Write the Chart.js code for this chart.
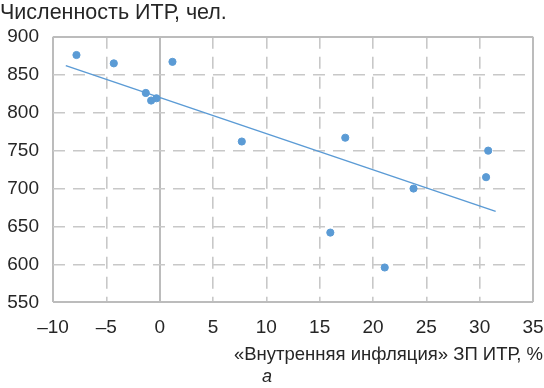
<!DOCTYPE html>
<html>
<head>
<meta charset="utf-8">
<script src="https://cdn.jsdelivr.net/npm/chart.js@4/dist/chart.umd.min.js"></script>
<style>
  html, body { margin: 0; padding: 0; background: #fff; }
  #wrap { width: 544px; height: 388px; }
</style>
</head>
<body>
<div id="wrap"><canvas id="itrChart"></canvas></div>
<script>
// «внутренняя инфляция» ЗП ИТР, % and численность ИТР, чел.
const inflation = [-7.8, -4.3, 1.2, -1.3, -0.8, -0.3, 7.7, 17.4, 16.0, 21.1, 23.8, 30.6, 30.8]
const headcount = [876, 865, 867, 826, 816, 819, 762, 767, 642, 596, 700, 715, 750]

// linear trend, ends
const trendX = [-8.8, 31.5]
const trendY = [862, 670]

const xTicks = [-10, -5, 0, 5, 10, 15, 20, 25, 30, 35]
const yTicks = [550, 600, 650, 700, 750, 800, 850, 900]

const blue = '#5b9bd5'
const gridGray = '#c8c8c8'
const edgeGray = '#bcbcbc'
const textColor = '#262626'
const font = 'Liberation Sans, Arial, sans-serif'

const points = inflation.map((x, i) => ({ x: x, y: headcount[i] }))
const trend = trendX.map((x, i) => ({ x: x, y: trendY[i] }))

// plot frame and the zero line are solid, the rest dashed
function isEdge(ctx, values) {
    if (!ctx.tick) return false
    const v = ctx.tick.value
    return v === values[0] || v === values[values.length - 1] || v === 0
}

// the x axis title runs out to the right edge of the picture
const axisTitleToEdge = {
    id: 'axisTitleToEdge',
    afterLayout(chart) {
        chart.scales.x.right = chart.width - 1
    }
}

const config = {
    type: 'scatter',
    data: {
        datasets: [
            {
                label: 'ИТР',
                data: points,
                backgroundColor: blue,
                borderColor: blue,
                pointRadius: 3.6,
                pointHoverRadius: 3.6,
                order: 1
            },
            {
                type: 'line',
                label: 'Тренд',
                data: trend,
                borderColor: blue,
                borderWidth: 1.5,
                pointRadius: 0,
                fill: false,
                tension: 0,
                order: 2
            }
        ]
    },
    plugins: [axisTitleToEdge],
    options: {
        responsive: true,
        maintainAspectRatio: false,
        animation: false,
        layout: { padding: { left: 0, right: 10, top: 0, bottom: 0 } },
        plugins: {
            legend: { display: false },
            tooltip: { enabled: false },
            title: {
                display: true,
                text: 'Численность ИТР, чел.',
                align: 'start',
                color: textColor,
                font: { family: font, size: 21.5, weight: 'normal' },
                padding: { top: 0, bottom: 11 }
            },
            subtitle: {
                display: true,
                text: 'а',
                position: 'bottom',
                color: textColor,
                font: { family: font, size: 18, style: 'italic' },
                padding: { top: 0, bottom: 0 }
            }
        },
        scales: {
            x: {
                type: 'linear',
                min: -10,
                max: 35,
                afterBuildTicks: axis => { axis.ticks = xTicks.map(v => ({ value: v })) },
                afterFit: axis => {
                    axis.height = 64
                    axis.paddingRight = 11
                },
                ticks: {
                    color: textColor,
                    font: { family: font, size: 19 },
                    padding: 14,
                    maxRotation: 0,
                    callback: v => (v < 0 ? '\u2013' + Math.abs(v) : '' + v)
                },
                grid: {
                    drawTicks: false,
                    color: ctx => isEdge(ctx, xTicks) ? edgeGray : gridGray,
                    lineWidth: ctx => isEdge(ctx, xTicks) ? 2 : 1.6
                },
                border: {
                    display: false,
                    dash: ctx => isEdge(ctx, xTicks) ? [] : [12, 8]
                },
                title: {
                    display: true,
                    text: '«Внутренняя инфляция» ЗП ИТР, %',
                    align: 'end',
                    color: textColor,
                    font: { family: font, size: 18.5 },
                    padding: { top: 0, bottom: 0 }
                }
            },
            y: {
                type: 'linear',
                min: 550,
                max: 900,
                afterBuildTicks: axis => { axis.ticks = yTicks.map(v => ({ value: v })) },
                afterFit: axis => { axis.width = 53 },
                ticks: {
                    color: textColor,
                    font: { family: font, size: 19 },
                    padding: 14
                },
                grid: {
                    drawTicks: false,
                    color: ctx => isEdge(ctx, yTicks) ? edgeGray : gridGray,
                    lineWidth: ctx => isEdge(ctx, yTicks) ? 2 : 1.6
                },
                border: {
                    display: false,
                    dash: ctx => isEdge(ctx, yTicks) ? [] : [12, 8]
                }
            }
        }
    }
}

const itrChart = new Chart(document.getElementById('itrChart'), config)
</script>
</body>
</html>
